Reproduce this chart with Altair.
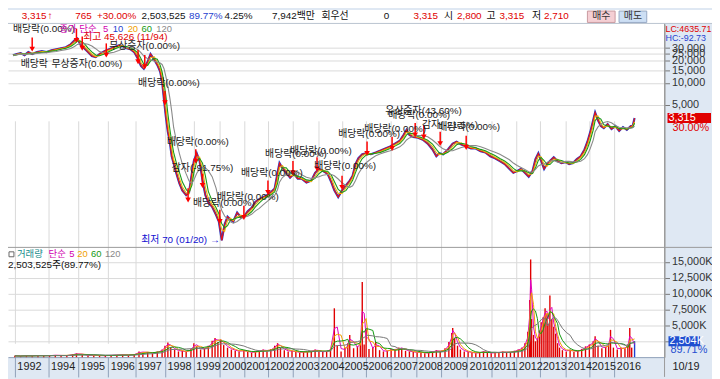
import altair as alt
import pandas as pd

# ---------------- data ----------------
# session index (position along the trading-day axis) and closing price
price_t = [0,4,8,12,16,20,25,30,35,40,45,50,55,60,64,67,70,74,78,82,86,90,95,100,105,110,114,118,122,126,
           130,133,136,140,143,147,150,153,155,157,159,161,163,165,167,170,173,176,180,183,186,188,191,194,197,
           200,203,207,211,214,217,220,223,226,229,233,237,240,244,248,252,256,260,264,268,272,275,277,280,284,
           288,292,296,300,305,310,314,318,322,327,331,334,338,342,346,350,353,356,359,363,367,372,377,382,387,
           392,397,402,406,409,412,416,421,426,431,436,440,443,447,452,457,461,466,471,476,481,486,491,496,501,
           506,511,516,520,524,528,532,536,540,543,546,549,552,555,558,562,566,570,574,578,582,586,590,594,597,
           600,603,605,608,611,614,618,622,626,630,634,638,642,644,646]
price_v = [24000,24900,25600,24000,26500,24900,26500,27200,26500,28100,29000,29900,30800,33800,38200,40600,
           33800,29900,26500,23400,22600,24900,27200,29000,30800,32800,31800,29900,29000,26500,21300,17200,
           15700,19500,24900,20700,17700,14300,10500,5880,3390,2140,1570,993,801,571,421,339,291,319,590,852,
           1090,852,461,291,234,202,157,127,70,116,148,135,127,168,144,148,175,195,236,257,274,291,319,359,590,
           801,687,590,506,571,491,491,434,461,590,666,626,571,434,339,274,339,395,461,538,777,934,1060,1090,
           1060,1120,1190,1270,1350,1480,1620,1950,2280,1950,1830,1780,1670,1480,1230,993,1090,1060,1230,1480,
           1570,1435,1350,1270,1270,1160,1120,993,934,852,777,666,590,626,666,590,522,626,906,1090,852,666,777,
           852,960,852,801,826,777,801,906,993,1230,1570,2140,3080,3950,3080,2570,2420,2730,2340,2570,2210,2490,
           2280,2570,2550,3315]

# volume (thousand shares)
vol_t = [2,8,14,20,26,32,38,44,50,56,62,66,72,78,84,90,96,102,108,114,120,126,131,135,140,145,150,155,158,161,
         164,168,172,176,180,185,188,191,195,199,203,207,210,213,216,219,223,227,231,235,240,244,248,252,256,260,
         264,268,272,275,278,282,286,290,294,298,302,306,310,314,318,322,326,330,334,337,341,345,348,350,354,358,
         361,363,365,367,370,374,377,381,385,389,393,397,401,404,408,412,416,420,424,428,432,436,440,444,449,453,
         456,457,459,462,465,469,473,477,481,485,489,493,497,501,505,509,513,517,521,525,529,532,535,537,538,539,
         541,543,545,547,549,551,553,555,556,558,560,562,564,566,568,571,575,579,583,587,591,595,599,603,605,608,
         612,616,619,621,624,628,632,636,639,641,643,646]
vol_k = [200,150,250,180,300,200,250,350,200,300,450,600,350,250,300,200,250,300,350,400,300,500,900,700,800,
         600,900,1200,1800,2300,1500,1200,900,1000,800,1300,2200,1700,1200,1400,1800,2600,3000,2400,2800,1900,
         1500,1200,1000,900,1100,800,700,900,1000,1200,900,1300,1800,2200,1500,1100,900,1000,800,700,900,800,
         1000,1200,900,800,1000,1300,7700,1800,900,1500,2200,3500,1400,1700,2500,11850,2000,4400,1300,1500,2400,
         1100,900,1000,1300,1100,1500,1400,1000,900,800,700,800,600,700,900,1100,800,1400,2400,3800,4600,3000,
         1800,1200,900,800,700,600,800,900,700,600,800,700,900,700,800,1000,1200,1500,2200,4000,9000,15400,6000,
         3500,2500,3000,4200,5500,6300,7700,6800,5200,9700,6000,4800,3700,2200,1500,1100,900,1200,800,1000,1300,
         1700,2000,2500,3300,1800,1400,1600,2200,4300,1500,1200,1500,1400,2000,4600,1500,2504]

# first session of each year
year_t = [2,37,68,99,127,158,188,215,240,265,291,317,342,367,393,419,445,472,497,523,548,574,599,625]
year_labels = ["1992","1994","1995","1996","1997","1998","1999","2000","2001","2002","2003","2004",
               "2005","2006","2007","2008","2009","2010","2011","2012","2013","2014","2015","2016"]

# corporate-event annotations (session, price level, text)
ann_t = [0,8,40,100,130,160,165,187,212,237,262,288,313,338,365,390,387,425,442]
ann_p = [55200,18300,18300,31800,9910,1570,687,228,274,590,1060,1160,731,2000,2340,3590,4190,2650,2490]
ann_text = ["배당락(0.00%)","배당락","무상증자(0.00%)","무상증자(0.00%)","배당락(0.00%)","배당락(0.00%)",
            "감자(-91.75%)","배당락(0.00%)","배당락(0.00%)","배당락(0.00%)","배당락(0.00%)","배당락(0.00%)",
            "배당락(0.00%)","배당락(0.00%)","배당락(0.00%)","배당락(0.00%)","유상증자(43.60%)","감자(-21.5%)",
            "배당락(0.00%)"]

# red event arrows (session, price at arrow tip)
arrow_t = [20,66,72,97,130,137,158,182,190,197,215,240,265,291,316,342,368,394,418,427,444,471]
arrow_p = [29000,38200,29900,24000,19500,16700,5370,250,852,395,127,144,319,590,666,372,1090,1270,1950,1830,1480,1310]

high_text = "최고 45,626 (11/94)"
high_t, high_p = 73, 41900
low_text = "최저 70 (01/20) →"
low_t, low_p = 217, 70

price_ticks = [5000, 10000, 15000, 20000, 25000, 30000]
vol_ticks = [2500, 5000, 7500, 10000, 12500, 15000]

header_text = ["3,315", "↑", "765", "+30.00%", "2,503,525", "89.77%", "4.25%", "7,942백만", "회우선", "0",
               "3,315", "시", "2,800", "고", "3,315", "저", "2,710"]
header_color = ["#e00000", "#e00000", "#e00000", "#e00000", "#111111", "#1f3fd0", "#111111", "#111111",
                "#111111", "#111111", "#e00000", "#111111", "#e00000", "#111111", "#e00000", "#111111", "#e00000"]

last_change = "30.00%"
vol_ratio = "89.71%"
vol_line = "2,503,525주(89.77%)"

# ---------------- layout / style ----------------
FONT = "Liberation Sans, Noto Sans CJK KR, sans-serif"
W, H = 664, 351
one = pd.DataFrame({"k": [0]})
header_x = [14, 40, 68, 90, 135, 183, 219, 267, 317, 380, 410, 441, 454, 484, 497, 530, 542]

year_expr = ("[" + ",".join(f"'{y}'" for y in year_labels) + "][indexof(["
             + ",".join(str(v) for v in year_t) + "], datum.value)]")
xs = alt.Scale(domain=[0, 672], nice=False, zero=False)
xaxis = alt.Axis(values=year_t, labelExpr=year_expr, grid=True, gridColor="#d9d9d9", tickSize=20,
                 tickColor="#8fa0b8", domainColor="#8fa0b8", labelAlign="left", labelBaseline="top",
                 labelPadding=-17, labelOffset=2, labelFontSize=11, labelColor="#222222", title=None,
                 labelOverlap=False, labelFlush=False, labelFont=FONT)
X = alt.X("t:Q", scale=xs, axis=xaxis)

ps = alt.Scale(type="log", domain=[58, 64300], range=[239, 14], nice=False)
vs = alt.Scale(domain=[0, 17300], range=[351, 240], nice=False, zero=True)
paxis = alt.Axis(orient="right", values=price_ticks, format=",", grid=True, gridColor="#dadada", tickSize=5,
                 tickColor="#777777", domainColor="#9a9a9a", labelPadding=2, labelFontSize=11,
                 labelColor="#333333", title=None, labelOverlap=False, labelFlush=False, labelFont=FONT)
vaxis = alt.Axis(orient="right", values=vol_ticks,
                 labelExpr="datum.value == 2500 ? '' : format(datum.value, ',') + 'K'", grid=True,
                 gridColor="#dadada", tickSize=5, tickColor="#777777", domainColor="#9a9a9a", labelPadding=2,
                 labelFontSize=11, labelColor="#333333", title=None, labelOverlap=False, labelFlush=False,
                 labelFont=FONT)


def YP(field, axis=None):
    return alt.Y(f"{field}:Q", scale=ps, axis=axis)


def YV(field, axis=None):
    return alt.Y(f"{field}:Q", scale=vs, axis=axis)


def label(txt, x, y, color="#111111", size=11, align="left", weight="normal"):
    return alt.Chart(one).mark_text(text=txt, align=align, baseline="middle", color=color, fontSize=size,
                                    font=FONT, fontWeight=weight).encode(x=alt.value(x), y=alt.value(y))


def box(x1, x2, y1, y2, fill, stroke=None):
    kw = dict(fill=fill)
    if stroke:
        kw.update(stroke=stroke, strokeWidth=1)
    return alt.Chart(one).mark_rect(**kw).encode(x=alt.value(x1), x2=alt.value(x2),
                                                 y=alt.value(y1), y2=alt.value(y2))


def hrule(x1, x2, y, color, w=1):
    return alt.Chart(one).mark_rule(color=color, strokeWidth=w).encode(
        x=alt.value(x1), x2=alt.value(x2), y=alt.value(y))


def vrule(x, y1, y2, color, w=1):
    return alt.Chart(one).mark_rule(color=color, strokeWidth=w).encode(
        x=alt.value(x), y=alt.value(y1), y2=alt.value(y2))


price_df = pd.DataFrame({"t": price_t, "price": price_v})
vol_df = pd.DataFrame({"t": vol_t, "vol": vol_k})
ann_df = pd.DataFrame({"t": ann_t, "price": ann_p, "label": ann_text})
arrow_df = pd.DataFrame({"t": arrow_t, "price": arrow_p})

layers = []

# price candles approximated by a blue and a red close line
pbase = alt.Chart(price_df)
layers.append(pbase.mark_line(color="#1f3fd0", strokeWidth=2.2).encode(x=X, y=YP("price", paxis)))
layers.append(pbase.mark_line(color="#ee1111", strokeWidth=1.1).encode(x=X, y=YP("price")))
for frame, color in [(1, "#f2b705"), (2, "#1a9a1a"), (5, "#8a8a8a")]:
    layers.append(pbase.transform_window(ma="mean(price)", frame=[-frame, 0], sort=[alt.SortField("t")])
                  .mark_line(color=color, strokeWidth=1.1).encode(x=X, y=YP("ma")))

# event arrows
abase = alt.Chart(arrow_df).transform_calculate(top="datum.price * 1.45")
layers.append(abase.mark_rule(color="#ff0000", strokeWidth=1.5).encode(x=X, y=YP("top"), y2="price:Q"))
layers.append(abase.mark_point(shape="triangle-down", filled=True, size=32, color="#ff0000", opacity=1)
              .encode(x=X, y=YP("price")))

# annotation texts
layers.append(alt.Chart(ann_df).mark_text(align="left", baseline="middle", fontSize=10, font=FONT,
                                          color="#1a1a1a").encode(x=X, y=YP("price"), text="label:N"))
layers.append(alt.Chart(pd.DataFrame({"t": [high_t], "price": [high_p]}))
              .mark_text(text=high_text, align="left", baseline="middle", fontSize=10, font=FONT,
                         color="#e00000").encode(x=X, y=YP("price")))
layers.append(alt.Chart(pd.DataFrame({"t": [low_t], "price": [low_p]}))
              .mark_text(text=low_text, align="right", baseline="middle", fontSize=10, font=FONT, dx=-2,
                         color="#1010d0").encode(x=X, y=YP("price")))

# volume bars and averages
vbase = alt.Chart(vol_df)
layers.append(vbase.mark_bar(size=1.4).encode(
    x=X, y=YV("vol", vaxis),
    color=alt.condition(alt.datum.t == vol_t[-1], alt.value("#1f3fd0"), alt.value("#e00000"))))
for frame, color in [(1, "#e000c0"), (2, "#f0a000"), (4, "#139a13"), (8, "#777777")]:
    layers.append(vbase.transform_window(ma="mean(vol)", frame=[-frame, 0], sort=[alt.SortField("t")])
                  .mark_line(color=color, strokeWidth=1).encode(x=X, y=YV("ma")))

# panel separators
layers.append(hrule(0, 712, 240, "#9a9a9a"))
layers.append(vrule(664, 0, 371, "#9a9a9a"))

# header bar
layers.append(box(0, 712, 0, 13, "#ffffff"))
layers.append(hrule(0, 712, 13.5, "#b9c3cf"))
for txt, col, x in zip(header_text, header_color, header_x):
    layers.append(label(txt, x, 6.5, col, 10, weight="bold" if txt == "↑" else "normal"))
layers.append(box(586, 614, 1, 12.5, "#f5cfd4", "#c89aa0"))
layers.append(label("매수", 600, 6.5, "#333333", 10, align="center"))
layers.append(box(618, 646, 1, 12.5, "#cddff4", "#97a9c4"))
layers.append(label("매도", 632, 6.5, "#333333", 10, align="center"))

# price legend
for txt, col, x in [("종가 단순", "#d000b0", 52), ("5", "#d000b0", 96), ("10", "#1f3fd0", 106),
                    ("20", "#f0a000", 121), ("60", "#139a13", 135), ("120", "#888888", 150)]:
    layers.append(label(txt, x, 19, col, 9.5))

# volume legend
layers.append(box(1, 6, 244.5, 249.5, "#ffffff", "#666666"))
for txt, col, x in [("거래량", "#138a8a", 9), ("단순", "#d000b0", 41), ("5", "#d000b0", 62),
                    ("20", "#f0a000", 70), ("60", "#139a13", 84), ("120", "#888888", 98)]:
    layers.append(label(txt, x, 247, col, 9.5))
layers.append(label(vol_line, 0, 257.5, "#111111", 10))

# right-side labels
layers.append(label("LC:4635.71", 665, 19, "#e00000", 9))
layers.append(label("HC:-92.73", 665, 28.5, "#1f3fd0", 9))
layers.append(label("10/19", 672, 361, "#222222", 11))


def bar_shape(w, h):
    r = h / w
    return f"M-1,-{r:.4f}H1V{r:.4f}H-1Z"


last_p = pd.DataFrame({"price": [price_v[-1]]})
layers.append(alt.Chart(last_p).mark_point(shape=bar_shape(44, 10), size=44 * 44, filled=True,
                                           color="#e00000", opacity=1, strokeWidth=0)
              .encode(x=alt.value(689), y=YP("price")))
layers.append(alt.Chart(last_p).mark_text(text=f"{price_v[-1]:,}", align="left", baseline="middle",
                                          color="#ffffff", fontSize=11, font=FONT)
              .encode(x=alt.value(668), y=YP("price")))
layers.append(alt.Chart(last_p).mark_text(text=last_change, align="left", baseline="middle", dy=10,
                                          color="#e00000", fontSize=11, font=FONT)
              .encode(x=alt.value(672), y=YP("price")))

last_v = pd.DataFrame({"vol": [vol_k[-1]]})
layers.append(alt.Chart(last_v).mark_point(shape=bar_shape(32, 10), size=32 * 32, filled=True,
                                           color="#1f4fd0", opacity=1, strokeWidth=0)
              .encode(x=alt.value(684), y=YV("vol")))
layers.append(alt.Chart(last_v).mark_text(text=f"{vol_k[-1]:,}K", align="left", baseline="middle",
                                          color="#ffffff", fontSize=11, font=FONT)
              .encode(x=alt.value(669), y=YV("vol")))
layers.append(alt.Chart(last_v).mark_text(text=vol_ratio, align="left", baseline="middle", dy=9,
                                          color="#1f4fd0", fontSize=11, font=FONT)
              .encode(x=alt.value(670), y=YV("vol")))

chart = (alt.layer(*layers)
         .resolve_scale(y="independent")
         .properties(width=W, height=H, padding={"left": 0, "top": 0, "right": 48, "bottom": 20},
                     autosize=alt.AutoSizeParams(type="none"), background="#dfe8f3")
         .configure_view(fill="white", strokeWidth=0))

chart.save("out.html", embed_options={"renderer": "svg", "actions": False})
